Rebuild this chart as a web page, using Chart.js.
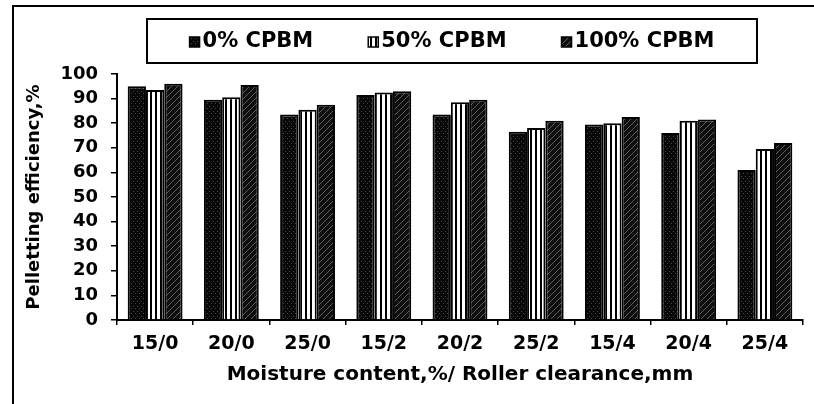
<!DOCTYPE html>
<html>
<head>
<meta charset="utf-8">
<title>Pelletting efficiency</title>
<script src="https://cdn.jsdelivr.net/npm/chart.js@4.4.1/dist/chart.umd.min.js"></script>
<style>
  html, body { margin: 0; padding: 0; background: #fff; }
  #wrap { width: 814px; height: 404px; position: relative; }
</style>
</head>
<body>
<div id="wrap"><canvas id="chart"></canvas></div>
<script>
// categories: moisture content % / roller clearance mm
const categories = ['15/0', '20/0', '25/0', '15/2', '20/2', '25/2', '15/4', '20/4', '25/4'];
const seriesNames = ['0% CPBM', '50% CPBM', '100% CPBM'];
const cpbm0 = [95, 89.5, 83.5, 91.5, 83.5, 76.5, 79.5, 76, 61];
const cpbm50 = [93.5, 90.5, 85.5, 92.5, 88.5, 78, 80, 81, 69.5];
const cpbm100 = [96, 95.5, 87.5, 93, 89.5, 81, 82.5, 81.5, 72];
const yTicks = [0, 10, 20, 30, 40, 50, 60, 70, 80, 90, 100];

const FONT = "'DejaVu Sans', sans-serif";

// small canvas patterns to imitate the printed bar fills
function makePattern(kind) {
  const c = document.createElement('canvas');
  const x = c.getContext('2d');
  if (kind === 'dots') {
    c.width = 4; c.height = 5;
    x.fillStyle = '#080808';
    x.fillRect(0, 0, 4, 5);
    x.fillStyle = '#454545';
    x.fillRect(1, 1, 1, 1);
    x.fillRect(3, 3, 1, 1);
  } else if (kind === 'stripes') {
    c.width = 5; c.height = 1;
    x.fillStyle = '#ffffff';
    x.fillRect(0, 0, 5, 1);
    x.fillStyle = '#000000';
    x.fillRect(0, 0, 2, 1);
  } else {
    c.width = 6; c.height = 6;
    x.fillStyle = '#0e0e0e';
    x.fillRect(0, 0, 6, 6);
    x.strokeStyle = '#5e5e5e';
    x.lineWidth = 1;
    x.beginPath();
    x.moveTo(0, 6); x.lineTo(6, 0);
    x.moveTo(-1, 1); x.lineTo(1, -1);
    x.moveTo(5, 7); x.lineTo(7, 5);
    x.stroke();
  }
  return x.createPattern(c, 'repeat');
}

const fills = [makePattern('dots'), makePattern('stripes'), makePattern('hatch')];

// legend drawn inside a box above the plot, plus the frame lines of the scan
const boxedLegend = {
  id: 'boxedLegend',
  afterDraw(chart) {
    const ctx = chart.ctx;
    ctx.save();
    ctx.strokeStyle = '#000';
    ctx.lineWidth = 2;
    ctx.beginPath();
    ctx.moveTo(13, 404);
    ctx.lineTo(13, 6);
    ctx.lineTo(814, 6);
    ctx.stroke();
    ctx.strokeRect(147, 19, 610, 44);

    ctx.font = 'bold 21px ' + FONT;
    ctx.textBaseline = 'middle';
    ctx.textAlign = 'left';
    const gap = 55;
    const items = chart.data.datasets.map(ds => ({ ds, w: 13 + ctx.measureText(ds.label).width }));
    const total = items.reduce((a, it) => a + it.w, 0) + gap * (items.length - 1);
    let x = 452 - total / 2;
    items.forEach(it => {
      ctx.fillStyle = it.ds.backgroundColor;
      ctx.fillRect(x, 37, 10, 10);
      ctx.lineWidth = 1.5;
      ctx.strokeRect(x, 37, 10, 10);
      ctx.fillStyle = '#000';
      ctx.fillText(it.ds.label, x + 13, 42);
      x += it.w + gap;
    });
    ctx.restore();
  }
};

new Chart(document.getElementById('chart'), {
  type: 'bar',
  data: {
    labels: categories,
    datasets: [
      { label: seriesNames[0], data: cpbm0, backgroundColor: fills[0] },
      { label: seriesNames[1], data: cpbm50, backgroundColor: fills[1] },
      { label: seriesNames[2], data: cpbm100, backgroundColor: fills[2] }
    ]
  },
  options: {
    responsive: true,
    maintainAspectRatio: false,
    animation: false,
    layout: { padding: { top: 74, right: 11, bottom: 0, left: 0 } },
    datasets: {
      bar: {
        categoryPercentage: 0.72,
        barPercentage: 1.0,
        borderColor: '#000',
        borderWidth: 2
      }
    },
    plugins: {
      legend: { display: false },
      tooltip: { enabled: false }
    },
    scales: {
      x: {
        afterFit(s) { s.height = 84; },
        grid: { offset: true, drawOnChartArea: false, tickLength: 5, color: '#000', lineWidth: 1.5 },
        border: { color: '#000', width: 2 },
        ticks: { color: '#000', font: { family: FONT, size: 19, weight: 'bold' }, padding: 8, maxRotation: 0 },
        title: {
          display: true,
          text: 'Moisture content,%/ Roller clearance,mm',
          color: '#000',
          font: { family: FONT, size: 20, weight: 'bold' },
          padding: { top: 0, bottom: 17 }
        }
      },
      y: {
        min: 0,
        max: 100,
        afterFit(s) { s.width = 117; },
        afterBuildTicks(s) { s.ticks = yTicks.map(v => ({ value: v })); },
        grid: { drawOnChartArea: false, tickLength: 6, color: '#000', lineWidth: 1.5 },
        border: { color: '#000', width: 2 },
        ticks: { color: '#000', font: { family: FONT, size: 18, weight: 'bold' }, padding: 13 },
        title: {
          display: true,
          text: 'Pelletting efficiency,%',
          color: '#000',
          font: { family: FONT, size: 18, weight: 'bold' },
          padding: { top: 24, bottom: 0 }
        }
      }
    }
  },
  plugins: [boxedLegend]
});
</script>
</body>
</html>
